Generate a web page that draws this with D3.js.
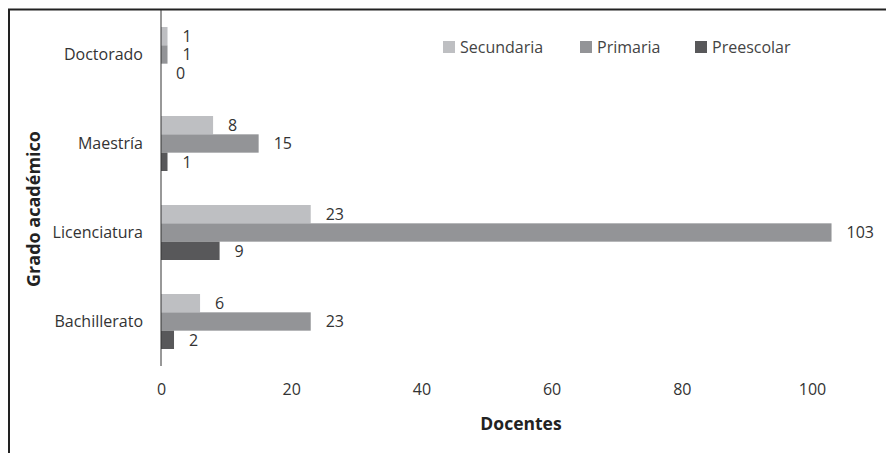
<!DOCTYPE html>
<html><head><meta charset="utf-8">
<script src="https://cdn.jsdelivr.net/npm/d3@7"></script>
<style>
body{margin:0;background:#fff;}
svg text{font-family:"Open Sans",sans-serif;}
</style></head>
<body><svg id="c" width="886" height="453"></svg>
<script>
const categories = ["Doctorado", "Maestría", "Licenciatura", "Bachillerato"];
const seriesNames = ["Secundaria", "Primaria", "Preescolar"];
const secundaria = [1, 8, 23, 6];
const primaria = [1, 15, 103, 23];
const preescolar = [0, 1, 9, 2];
const xTicks = [0, 20, 40, 60, 80, 100];
const colors = ["#bebfc2", "#939497", "#58585a"];

const seriesValues = [secundaria, primaria, preescolar];
const svg = d3.select("#c");

// frame
svg.append("path").attr("d", "M9,453 L9,9.5 L886,9.5").attr("fill", "none")
  .attr("stroke", "#222").attr("stroke-width", 2);

const x = d3.scaleLinear().domain([0, 100]).range([161, 812]);
const y = d3.scaleBand().domain(categories).range([10, 366]).paddingInner(0.382).paddingOuter(0.191);
const ys = d3.scaleBand().domain(seriesNames).range([0, y.bandwidth()]);

const g = svg.append("g");
categories.forEach((cat, ci) => {
  seriesNames.forEach((s, si) => {
    const v = seriesValues[si][ci];
    const yy = y(cat) + ys(s);
    g.append("rect").attr("x", x(0)).attr("y", yy)
      .attr("width", x(v) - x(0)).attr("height", ys.bandwidth())
      .attr("fill", colors[si]);
    g.append("text").attr("x", x(v) + 15).attr("y", yy + ys.bandwidth() / 2)
      .attr("dy", "0.36em").attr("font-size", 16).attr("fill", "#333").text(v);
  });
});

// y axis
const yAxis = d3.axisLeft(y).tickSize(0).tickPadding(18);
const ya = svg.append("g").attr("transform", `translate(${x(0)},0)`).call(yAxis);
ya.select(".domain").attr("stroke", "#333").attr("d", `M0,10V366`);
ya.selectAll("text").attr("font-size", 16).attr("fill", "#333").attr("font-family", "Open Sans");

// x axis
const xAxis = d3.axisBottom(x).tickValues(xTicks).tickSize(0).tickPadding(0);
const xa = svg.append("g").attr("transform", `translate(0,384)`).call(xAxis);
xa.select(".domain").remove();
xa.selectAll("text").attr("font-size", 16).attr("fill", "#333").attr("font-family", "Open Sans");

// titles
svg.append("text").attr("x", 521).attr("y", 430).attr("text-anchor", "middle")
  .attr("font-size", 17.5).attr("font-weight", "bold").attr("fill", "#222").text("Docentes");
svg.append("text").attr("transform", "translate(40,209) rotate(-90)").attr("text-anchor", "middle")
  .attr("font-size", 18).attr("font-weight", "bold").attr("fill", "#222").text("Grado académico");

// legend
const legX = [443, 580, 695];
seriesNames.forEach((s, i) => {
  svg.append("rect").attr("x", legX[i]).attr("y", 41).attr("width", 12).attr("height", 12).attr("fill", colors[i]);
  svg.append("text").attr("x", legX[i] + 17).attr("y", 47).attr("dy", "0.36em")
    .attr("font-size", 16).attr("fill", "#444").text(s);
});
</script></body></html>
